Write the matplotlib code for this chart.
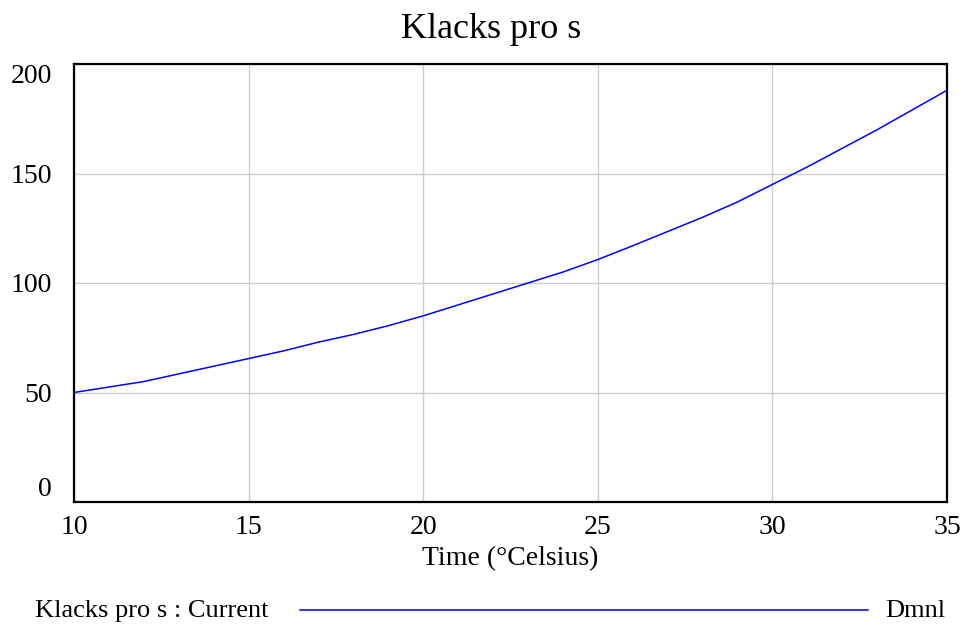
import matplotlib
matplotlib.use("Agg")
import matplotlib.pyplot as plt
from matplotlib.lines import Line2D

temps = [10, 11, 12, 13, 14, 15, 16, 17, 18, 19, 20, 21, 22,
         23, 24, 25, 26, 27, 28, 29, 30, 31, 32, 33, 34, 35]
klacks = [50, 52.5, 55, 58.5, 62, 65.5, 69, 73, 76.5, 80.5, 85, 90, 95,
          100, 105, 110.7, 117, 123.5, 130, 137, 145, 153, 161.5, 170, 179, 188]
x_ticks = [10, 15, 20, 25, 30, 35]
y_ticks = [0, 50, 100, 150, 200]

title = "Klacks pro s"
x_label = "Time (°Celsius)"
legend_label = "Klacks pro s : Current"
units = "Dmnl"

plt.rcParams["font.family"] = ["Liberation Serif", "DejaVu Serif"]

fig = plt.figure(figsize=(9.64, 6.26), dpi=100)
ax = fig.add_axes([74 / 964, 1 - 502 / 626, (947 - 74) / 964, (502 - 64) / 626])

ax.plot(temps, klacks, color="#0000ff", lw=1.1)
ax.set_xlim(10, 35)
ax.set_ylim(0, 200)
ax.set_xticks(x_ticks)
ax.set_yticks(y_ticks)
ax.grid(True, color="#cccccc", lw=1.0)
ax.set_axisbelow(True)
ax.tick_params(axis="both", length=0, labelsize=20)
ax.tick_params(axis="y", pad=16)
ax.tick_params(axis="x", pad=9)
ylabels = ax.get_yticklabels()
ylabels[0].set_va("bottom")
ylabels[-1].set_va("top")
for s in ax.spines.values():
    s.set_linewidth(1.6)
    s.set_color("black")

ax.set_xlabel(x_label, fontsize=20, labelpad=5)
fig.text(491 / 964, 1 - 29 / 626, title, ha="center", va="center", fontsize=26)

# legend row under the chart
ly = 1 - 611 / 626
fig.text(35 / 964, ly, legend_label, ha="left", va="center", fontsize=19)
fig.add_artist(Line2D([300 / 964, 868 / 964], [1 - 610 / 626, 1 - 610 / 626],
                      color="#0000ff", lw=1.1, transform=fig.transFigure))
fig.text(945 / 964, ly, units, ha="right", va="center", fontsize=19)

fig.savefig("out.png", dpi=100)
